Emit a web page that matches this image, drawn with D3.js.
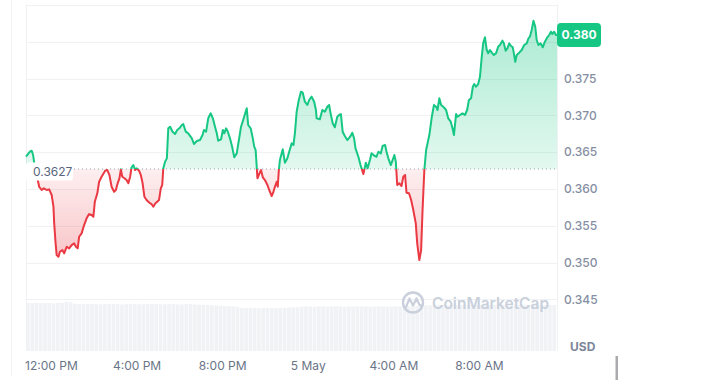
<!DOCTYPE html>
<html>
<head>
<meta charset="utf-8">
<script src="https://cdn.jsdelivr.net/npm/d3@7"></script>
<style>
  html, body { margin: 0; padding: 0; background: #fff; }
  svg { display: block; font-family: Inter, "Noto Sans", sans-serif; }
</style>
</head>
<body>
<svg width="707" height="389"></svg>
<script>
// price readings: [minutes after 10:50 AM on 4 May, price in USD]
const priceData = [
  [0,0.3644],[11,0.36505],[16,0.36519],[20,0.3646],[22,0.36392],[28,0.36188],[34,0.36097],[37,0.36029],
  [44,0.35985],[50,0.36008],[58,0.35985],[65,0.35994],[72,0.35917],[77,0.35758],[79,0.35536],[83,0.3526],
  [86,0.35101],[91,0.35078],[95,0.35146],[102,0.35169],[107,0.35124],[114,0.35214],[121,0.35192],[128,0.35237],
  [135,0.3526],[140,0.35214],[145,0.35192],[149,0.3535],[156,0.35396],[163,0.35509],[170,0.356],[177,0.35658],
  [184,0.35645],[189,0.35622],[193,0.35826],[200,0.3594],[205,0.36097],[212,0.36165],[222,0.36247],[228,0.36256],
  [234,0.36188],[240,0.36029],[247,0.35961],[252,0.35985],[257,0.36076],[262,0.36144],[266,0.36266],[270,0.36165],
  [276,0.36144],[282,0.3612],[287,0.36076],[292,0.36165],[296,0.36293],[301,0.36324],[306,0.36256],[310,0.3628],
  [317,0.36247],[322,0.36188],[327,0.36076],[332,0.35894],[338,0.35849],[346,0.35812],[352,0.35794],[357,0.35758],
  [363,0.35804],[368,0.35826],[373,0.35849],[378,0.36008],[382,0.36053],[385,0.3628],[390,0.36369],[395,0.36415],
  [399,0.36823],[404,0.36845],[411,0.36777],[418,0.36746],[424,0.368],[430,0.36823],[437,0.36868],[441,0.36882],
  [448,0.36777],[455,0.36755],[465,0.36687],[471,0.3661],[479,0.3665],[488,0.36664],[495,0.36732],[499,0.368],
  [505,0.36777],[511,0.36959],[518,0.37027],[524,0.36959],[530,0.36845],[535,0.36755],[539,0.36655],[547,0.36674],
  [552,0.368],[556,0.36755],[561,0.36823],[566,0.36777],[572,0.36687],[578,0.36573],[584,0.36429],[591,0.36483],
  [597,0.36664],[603,0.36845],[609,0.36936],[616,0.37049],[619,0.37095],[623,0.36868],[630,0.36823],[636,0.36687],
  [640,0.36573],[644,0.36528],[649,0.36144],[654,0.36202],[659,0.36256],[664,0.36157],[670,0.3612],[677,0.36053],
  [682,0.35985],[689,0.35903],[693,0.35948],[698,0.36029],[703,0.36097],[706,0.36029],[709,0.36256],[712,0.36392],
  [720,0.36538],[726,0.36356],[733,0.36415],[738,0.36505],[745,0.36619],[750,0.36596],[754,0.36755],[759,0.37049],
  [765,0.37208],[771,0.3732],[776,0.37307],[782,0.37185],[789,0.3714],[794,0.37208],[801,0.37253],[808,0.37185],
  [813,0.37072],[815,0.36959],[824,0.36945],[831,0.37072],[838,0.37049],[845,0.37117],[850,0.3714],[854,0.37027],
  [860,0.36891],[866,0.36837],[873,0.36981],[878,0.37004],[883,0.37017],[888,0.36777],[894,0.36718],[901,0.36664],
  [909,0.36709],[915,0.36763],[920,0.36687],[924,0.36551],[932,0.36437],[938,0.36324],[946,0.36202],[953,0.36356],
  [958,0.3628],[965,0.36402],[969,0.36483],[976,0.36454],[983,0.36437],[988,0.36505],[995,0.36483],[1000,0.36583],
  [1007,0.36596],[1011,0.36505],[1016,0.36415],[1023,0.36324],[1028,0.36392],[1033,0.3646],[1037,0.36369],[1041,0.36053],
  [1047,0.36076],[1053,0.36039],[1058,0.36165],[1063,0.36188],[1067,0.35948],[1074,0.3594],[1080,0.35849],[1086,0.35713],
  [1093,0.35532],[1097,0.3526],[1103,0.35033],[1108,0.35169],[1112,0.35713],[1117,0.36256],[1122,0.36528],[1125,0.36596],
  [1131,0.36732],[1138,0.36981],[1144,0.3714],[1150,0.37117],[1154,0.37072],[1159,0.37231],[1164,0.3714],[1170,0.37117],
  [1178,0.37072],[1184,0.36959],[1191,0.36913],[1196,0.36823],[1200,0.36732],[1206,0.37017],[1210,0.36981],[1217,0.37004],
  [1224,0.37027],[1231,0.37004],[1237,0.37072],[1242,0.37208],[1248,0.37231],[1253,0.37388],[1257,0.37425],[1262,0.37388],
  [1268,0.37425],[1273,0.37524],[1278,0.37796],[1282,0.37978],[1287,0.3806],[1292,0.37887],[1296,0.37842],[1301,0.37887],
  [1306,0.37851],[1312,0.37819],[1318,0.37842],[1324,0.37932],[1329,0.37955],[1336,0.38014],[1340,0.37978],[1345,0.37878],
  [1350,0.3791],[1355,0.37978],[1360,0.37942],[1365,0.37924],[1368,0.37842],[1372,0.37728],[1376,0.37819],[1383,0.37851],
  [1390,0.37887],[1397,0.37955],[1404,0.37978],[1409,0.38046],[1413,0.38068],[1418,0.38159],[1423,0.38285],[1428,0.38204],
  [1432,0.38023],[1437,0.37955],[1443,0.37978],[1449,0.37924],[1455,0.38],[1462,0.3806],[1467,0.38091],[1472,0.38136],
  [1476,0.38105],[1481,0.38136],[1486,0.38091],[1489,0.38091]
];

// volume per 12 minute bucket (millions USD)
const volumes = [
  4.80,4.78,4.82,4.79,4.81,4.80,4.77,4.80,4.83,4.90,4.88,
  4.72,4.70,4.69,4.71,4.68,4.70,4.67,4.69,4.72,4.70,4.68,4.66,4.69,4.71,4.70,4.68,4.67,4.70,4.72,4.69,
  4.66,4.68,4.70,4.69,4.67,4.65,4.68,4.70,4.66,4.64,4.62,4.60,4.58,4.55,4.52,4.50,4.48,4.45,4.40,
  4.30,4.28,4.31,4.29,4.27,4.30,4.32,4.29,4.28,4.30,4.33,4.35,4.38,4.40,
  4.44,4.46,4.45,4.43,4.47,4.45,4.44,4.46,4.48,4.45,4.43,4.46,4.44,4.47,4.45,4.46,4.44,4.45,4.47,4.46,
  4.44,4.45,4.48,4.46,4.45,4.47,4.49,4.50,4.52,4.55,
  4.58,4.60,4.59,4.61,4.60,4.62,4.59,4.60,4.61,4.58,4.60,4.62,4.61,4.59,4.60,4.62,4.61,4.60,4.59,4.61,
  4.62,4.60,4.58,4.60,4.61,4.62,4.60,4.59,4.61,4.60
];
const volumeStep = 12; // minutes

const openPrice = 0.3627;
const lastLabel = "0.380";
const yTicks = [0.345, 0.350, 0.355, 0.360, 0.365, 0.370, 0.375];
const gridValues = [0.345, 0.350, 0.355, 0.360, 0.365, 0.370, 0.375, 0.380, 0.385];
const xTickHours = [12, 16, 20, 24, 28, 32]; // hours after midnight of 4 May
const xTickLabels = ["12:00 PM", "4:00 PM", "8:00 PM", "5 May", "4:00 AM", "8:00 AM"];

const green = "#16c784", red = "#ea3943";
const t0 = new Date(2024, 4, 4, 10, 50);
const minToDate = m => new Date(t0.getTime() + m * 60000);
const day0 = new Date(2024, 4, 4, 0, 0);

const svg = d3.select("svg");

const x = d3.scaleTime()
  .domain([t0, minToDate(1489)])
  .range([26, 557]);
const y = d3.scaleLinear()
  .domain([0.345, 0.380])
  .range([299.3, 41.7]);
const yVol = d3.scaleLinear()
  .domain([0, 5])
  .range([351, 301]);

const yBase = y(openPrice);

// far left rule
svg.append("line")
  .attr("x1", 11.5).attr("x2", 11.5).attr("y1", 0).attr("y2", 376)
  .attr("stroke", "#f1f2f4");

// volume bars
const barW = x(minToDate(volumeStep)) - x(minToDate(0));
svg.append("g").selectAll("rect")
  .data(volumes)
  .join("rect")
  .attr("x", (d, i) => x(minToDate(i * volumeStep)))
  .attr("width", barW - 0.6)
  .attr("y", d => yVol(d))
  .attr("height", d => yVol(0) - yVol(d))
  .attr("fill", "#f0f2f5");

// grid
svg.append("g").selectAll("line")
  .data(gridValues)
  .join("line")
  .attr("x1", 26).attr("x2", 557)
  .attr("y1", d => Math.round(y(d)) + 0.5)
  .attr("y2", d => Math.round(y(d)) + 0.5)
  .attr("stroke", "#f0f1f3");

svg.append("line")
  .attr("x1", 26.5).attr("x2", 26.5).attr("y1", 4.5).attr("y2", 351)
  .attr("stroke", "#f0f1f3");
svg.append("line")
  .attr("x1", 557.5).attr("x2", 557.5).attr("y1", 4.5).attr("y2", 351)
  .attr("stroke", "#f0f1f3");

// watermark
const wm = svg.append("g").attr("fill", "none").attr("stroke", "#c9d0dc");
wm.append("circle").attr("cx", 413).attr("cy", 302.5).attr("r", 10).attr("stroke-width", 2.4);
wm.append("path")
  .attr("d", "M406,307 L409.5,298.5 L413,305.5 L416.5,298.5 L419,304 Q420,306.5 421.5,305")
  .attr("stroke-width", 2.2).attr("stroke-linejoin", "round").attr("stroke-linecap", "round");
svg.append("text")
  .attr("x", 432).attr("y", 308.5)
  .attr("font-size", 15.5).attr("font-weight", 600)
  .attr("fill", "#c9d0dc")
  .text("CoinMarketCap");

// gradients and clips
const defs = svg.append("defs");
const gG = defs.append("linearGradient").attr("id", "gGreen")
  .attr("gradientUnits", "userSpaceOnUse").attr("x1", 0).attr("x2", 0).attr("y1", 20).attr("y2", yBase);
gG.append("stop").attr("offset", 0).attr("stop-color", green).attr("stop-opacity", 0.36);
gG.append("stop").attr("offset", 1).attr("stop-color", green).attr("stop-opacity", 0.12);
const gR = defs.append("linearGradient").attr("id", "gRed")
  .attr("gradientUnits", "userSpaceOnUse").attr("x1", 0).attr("x2", 0).attr("y1", yBase).attr("y2", 262);
gR.append("stop").attr("offset", 0).attr("stop-color", red).attr("stop-opacity", 0.08);
gR.append("stop").attr("offset", 1).attr("stop-color", red).attr("stop-opacity", 0.3);

defs.append("clipPath").attr("id", "above")
  .append("rect").attr("x", 0).attr("y", 0).attr("width", 707).attr("height", yBase);
defs.append("clipPath").attr("id", "below")
  .append("rect").attr("x", 0).attr("y", yBase).attr("width", 707).attr("height", 389 - yBase);

const area = d3.area()
  .x(d => x(minToDate(d[0])))
  .y0(yBase)
  .y1(d => y(d[1]));
const line = d3.line()
  .x(d => x(minToDate(d[0])))
  .y(d => y(d[1]));

svg.append("path").datum(priceData).attr("clip-path", "url(#above)")
  .attr("d", area).attr("fill", "url(#gGreen)");
svg.append("path").datum(priceData).attr("clip-path", "url(#below)")
  .attr("d", area).attr("fill", "url(#gRed)");

// baseline
svg.append("line")
  .attr("x1", 26).attr("x2", 557).attr("y1", yBase).attr("y2", yBase)
  .attr("stroke", "#9aa2b1").attr("stroke-width", 1).attr("stroke-dasharray", "1,3");

svg.append("path").datum(priceData).attr("clip-path", "url(#above)")
  .attr("d", line).attr("fill", "none").attr("stroke", green)
  .attr("stroke-width", 2).attr("stroke-linejoin", "round");
svg.append("path").datum(priceData).attr("clip-path", "url(#below)")
  .attr("d", line).attr("fill", "none").attr("stroke", red)
  .attr("stroke-width", 2).attr("stroke-linejoin", "round");

// open price label
svg.append("rect")
  .attr("x", 26).attr("y", yBase - 6.5).attr("width", 47).attr("height", 18).attr("rx", 3)
  .attr("fill", "#fff");
svg.append("text")
  .attr("x", 33).attr("y", yBase + 2.5).attr("dy", "0.35em")
  .attr("font-size", 12).attr("fill", "#58667e")
  .text(openPrice.toFixed(4));

// y axis
const yAxis = svg.append("g")
  .attr("transform", "translate(557,0)")
  .call(d3.axisRight(y).tickValues(yTicks).tickFormat(d3.format(".3f")).tickSize(0).tickPadding(7));
yAxis.select(".domain").remove();
yAxis.selectAll("text")
  .attr("font-family", "Inter, sans-serif").attr("font-size", 12).attr("font-weight", 500)
  .attr("fill", "#858ea2");

// last price tag
const lastY = y(priceData[priceData.length - 1][1]);
svg.append("rect")
  .attr("x", 557).attr("y", lastY - 12).attr("width", 44).attr("height", 24).attr("rx", 4)
  .attr("fill", green);
svg.append("text")
  .attr("x", 579).attr("y", lastY).attr("dy", "0.35em")
  .attr("text-anchor", "middle").attr("font-size", 12).attr("font-weight", 700)
  .attr("fill", "#fff")
  .text(lastLabel);

// x axis
const xAxis = svg.append("g")
  .attr("transform", "translate(0,357)")
  .call(d3.axisBottom(x)
    .tickValues(xTickHours.map(h => new Date(day0.getTime() + h * 3600000)))
    .tickFormat((d, i) => xTickLabels[i])
    .tickSize(0).tickPadding(4));
xAxis.select(".domain").remove();
xAxis.selectAll("text")
  .attr("font-family", "Inter, sans-serif").attr("font-size", 12)
  .attr("fill", "#6a7487");

// currency label
svg.append("text")
  .attr("x", 570).attr("y", 347).attr("dy", "0.35em")
  .attr("font-size", 12).attr("font-weight", 700).attr("fill", "#7d869a")
  .text("USD");

// small scroll marker
svg.append("rect")
  .attr("x", 615.5).attr("y", 356).attr("width", 2.5).attr("height", 24)
  .attr("fill", "#a9abae");
</script>
</body>
</html>
